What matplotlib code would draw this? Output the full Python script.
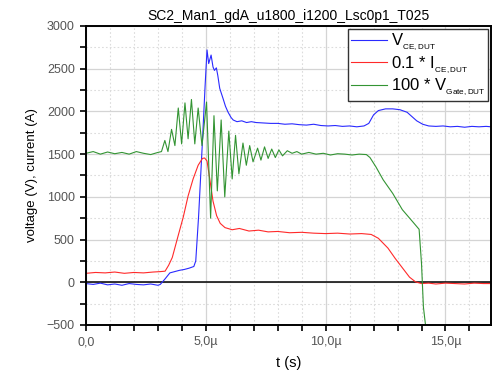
import matplotlib
matplotlib.use('Agg')
import matplotlib.pyplot as plt
from matplotlib.ticker import MultipleLocator, FuncFormatter

plt.rcParams['font.family'] = ['Liberation Sans', 'DejaVu Sans']
plt.rcParams['mathtext.fontset'] = 'custom'
plt.rcParams['mathtext.rm'] = 'Liberation Sans'
plt.rcParams['mathtext.it'] = 'Liberation Sans:italic'
plt.rcParams['mathtext.bf'] = 'Liberation Sans:bold'

title = 'SC2_Man1_gdA_u1800_i1200_Lsc0p1_T025'

# time in microseconds
t_vce = [0, 0.3, 0.6, 0.9, 1.2, 1.5, 1.8, 2.1, 2.4, 2.7,
         3.0, 3.1, 3.3, 3.5, 3.7, 3.9, 4.1, 4.3, 4.5, 4.58,
         4.7, 4.85, 4.97, 5.05, 5.12, 5.16, 5.22, 5.3, 5.36, 5.44,
         5.5, 5.58, 5.72, 5.82, 5.93, 6.05, 6.14, 6.3, 6.5, 6.7,
         6.9, 7.1, 7.4, 7.7, 8.0, 8.3, 8.6, 8.9, 9.2, 9.5,
         9.8, 10.1, 10.4, 10.7, 11.0, 11.3, 11.6, 11.8, 12.0, 12.2,
         12.5, 12.8, 13.1, 13.4, 13.6, 13.8, 14.05, 14.3, 14.6, 14.9,
         15.2, 15.5, 15.8, 16.1, 16.4, 16.7, 16.9]
vce = [-15, -25, -10, -30, -20, -35, -15, -25, -30, -20,
       -35, -25, 40, 110, 125, 140, 150, 165, 185, 250,
       780, 1600, 2300, 2720, 2560, 2600, 2660, 2520, 2480, 2510,
       2420, 2270, 2150, 2060, 1990, 1930, 1900, 1880, 1890, 1870,
       1880, 1870, 1865, 1860, 1860, 1850, 1855, 1845, 1840, 1850,
       1835, 1830, 1835, 1825, 1830, 1820, 1830, 1860, 1960, 2010,
       2030, 2030, 2020, 1990, 1940, 1890, 1850, 1830, 1825, 1830,
       1820, 1825, 1815, 1825, 1820, 1825, 1820]

t_ice = [0, 0.4, 0.8, 1.2, 1.6, 2.0, 2.4, 2.8, 3.1, 3.3,
         3.45, 3.6, 3.85, 4.06, 4.26, 4.47, 4.68, 4.86, 4.95, 5.05,
         5.17, 5.3, 5.45, 5.6, 5.8, 6.1, 6.4, 6.8, 7.2, 7.6,
         8.0, 8.5, 9.0, 9.5, 10.0, 10.5, 11.0, 11.5, 11.9, 12.2,
         12.6, 12.9, 13.2, 13.5, 13.75, 14.0, 14.3, 14.6, 15.0, 15.4,
         15.8, 16.2, 16.6, 16.9]
ice = [105, 115, 110, 120, 105, 115, 110, 120, 125, 130,
       200, 290, 550, 765, 1010, 1210, 1370, 1450, 1455, 1420,
       1200, 950, 780, 690, 640, 615, 630, 600, 610, 590,
       595, 580, 585, 575, 570, 575, 565, 570, 560, 515,
       400, 280, 170, 60, 5, -15, -10, -20, -10, -15,
       -20, -10, -15, -15]

t_vge = [0, 0.3, 0.6, 0.9, 1.2, 1.5, 1.8, 2.1, 2.4, 2.7,
         3.0, 3.15, 3.29, 3.42, 3.57, 3.71, 3.85, 3.99, 4.13, 4.26,
         4.4, 4.54, 4.68, 4.84, 5.03, 5.2, 5.34, 5.48, 5.64, 5.79,
         5.96, 6.1, 6.24, 6.38, 6.55, 6.69, 6.83, 6.97, 7.16, 7.3,
         7.45, 7.6, 7.75, 7.9, 8.05, 8.2, 8.4, 8.6, 8.8, 9.0,
         9.3, 9.6, 9.9, 10.2, 10.5, 10.8, 11.1, 11.4, 11.7, 11.85,
         12.1, 12.4, 12.8, 13.2, 13.64, 13.9, 14.0, 14.08, 14.25]
vge = [1510, 1530, 1500, 1525, 1505, 1520, 1500, 1530, 1510, 1495,
       1520, 1530, 1660, 1530, 1790, 1600, 2040, 1620, 2100, 1680,
       2140, 1620, 2040, 1600, 2110, 750, 1950, 1070, 1900, 1000,
       1770, 1210, 1720, 1270, 1630, 1370, 1600, 1410, 1570, 1430,
       1585, 1450, 1560, 1460, 1550, 1480, 1540, 1510, 1530, 1500,
       1520, 1500, 1510, 1490, 1505, 1500, 1490, 1500, 1495, 1460,
       1350, 1200, 1040, 850, 706, 620, 220, -290, -700]

labels = [r'V$_{_{\mathrm{CE,DUT}}}$', r'0.1 * I$_{_{\mathrm{CE,DUT}}}$',
          r'100 * V$_{_{\mathrm{Gate,DUT}}}$']


def fmt_us(v, pos):
    if abs(v) < 1e-9:
        return '0,0'
    return ('%.1fµ' % v).replace('.', ',')


fig = plt.figure(figsize=(4.93, 3.71), dpi=100)
ax = fig.add_axes([86 / 493, 1 - 325 / 371, 405 / 493, 299 / 371])

ax.plot(t_vce, vce, color='#2a2aff', lw=0.8, label=labels[0])
ax.plot(t_ice, ice, color='#ff2a2a', lw=0.8, label=labels[1])
ax.plot(t_vge, vge, color='#339433', lw=0.8, label=labels[2])
ax.axhline(0, color='black', lw=1.1, zorder=1)

ax.set_xlim(0, 16.9)
ax.set_ylim(-500, 3000)
ax.xaxis.set_major_locator(MultipleLocator(5))
ax.xaxis.set_minor_locator(MultipleLocator(1))
ax.yaxis.set_major_locator(MultipleLocator(500))
ax.yaxis.set_minor_locator(MultipleLocator(250))
ax.xaxis.set_major_formatter(FuncFormatter(fmt_us))

ax.grid(which='major', color='#d4d4d4', lw=0.9, zorder=0)
ax.grid(which='minor', color='#dcdcdc', lw=0.8, ls=(0, (1.5, 2)), zorder=0)
ax.set_axisbelow(True)

ax.tick_params(which='both', direction='out', labelsize=9, labelcolor='#555555',
               width=1.2, top=False, right=False)
ax.tick_params(which='major', length=4, pad=4)
ax.tick_params(which='minor', length=4)
for s in ax.spines.values():
    s.set_linewidth(1.4)

ax.set_title(title, fontsize=10, pad=4)
ax.set_xlabel('t (s)', fontsize=10.5, labelpad=6)
ax.set_ylabel('voltage (V), current (A)', fontsize=9.5, labelpad=6)

leg = ax.legend(loc='upper right', fontsize=12, frameon=True, fancybox=False,
                edgecolor='#333333', framealpha=1, borderpad=0.15,
                handlelength=2.2, handletextpad=0.2, labelspacing=0.05,
                borderaxespad=0.2)
leg.get_frame().set_linewidth(1.0)

fig.savefig('out.png', dpi=100)
